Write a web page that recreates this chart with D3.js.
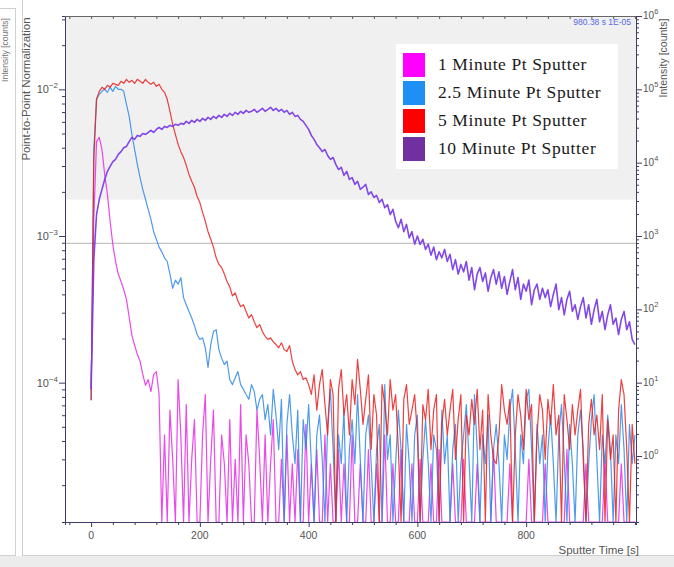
<!DOCTYPE html>
<html>
<head>
<meta charset="utf-8">
<script src="https://cdn.jsdelivr.net/npm/d3@7"></script>
<style>
  body { margin: 0; background: #ffffff; }
  svg { display: block; }
  text { font-family: "Liberation Sans", Arial, sans-serif; }
</style>
</head>
<body>
<svg id="chart" width="674" height="567"></svg>
<script>
// Sputter time grid (s), one sample every 5 s
const sputterTime = d3.range(0, 1001, 5);

// Point-to-point normalised Pt signal, in units of 1e-5 (0 = no counts)
const UNIT = 1e-5;
const pt1min = [
  9.0, 130, 440, 470, 389, 263, 192, 126, 87, 67,
  55, 49, 43, 37, 28, 21, 18, 15.6, 14, 11.4,
  9.6, 10.5, 8.7, 11.4, 11.9, 8.3, 0, 4.4, 0, 6.5,
  3.0, 0, 10.5, 4.4, 0, 7.1, 0, 3.0, 5.6, 0,
  0, 4.4, 8.3, 0, 3.0, 6.5, 0, 0, 4.4, 2.8,
  0, 5.6, 0, 3.0, 0, 7.1, 0, 4.4, 2.8, 0,
  0, 6.5, 3.0, 0, 4.4, 0, 2.8, 5.6, 0, 0,
  3.0, 0, 4.4, 0, 2.8, 0, 3.5, 0, 0, 5.2,
  0, 2.8, 0, 3.5, 0, 0, 4.4, 0, 2.8, 0,
  0, 3.5, 0, 2.8, 0, 0, 4.4, 0, 0, 2.8,
  0, 0, 3.5, 0, 0, 2.8, 0, 0, 4.4, 0,
  0, 2.8, 0, 0, 3.5, 0, 0, 0, 2.8, 0,
  0, 3.0, 0, 0, 0, 2.8, 0, 0, 3.5, 0,
  0, 0, 0, 2.8, 0, 0, 0, 3.0, 0, 0,
  0, 0, 2.8, 0, 0, 0, 0, 0, 3.5, 0,
  0, 0, 0, 0, 2.8, 0, 0, 0, 0, 0,
  0, 3.0, 0, 0, 0, 0, 0, 2.8, 0, 0,
  0, 0, 0, 0, 0, 3.5, 0, 0, 0, 0,
  0, 0, 2.8, 0, 0, 0, 0, 0, 0, 3.0,
  0, 0, 0, 0, 0, 2.8, 0, 0, 0, 0,
  0
];
const pt2_5min = [
  7.6, 389, 855, 925, 969, 1000, 954, 1032, 969, 1048,
  1000, 1000, 969, 790, 654, 493, 389, 308, 250, 208,
  178, 152, 130, 107, 95, 84, 78, 71, 67, 55,
  44, 50, 47, 52, 38, 34, 30.6, 27.6, 24.5, 21.3,
  19.7, 20.2, 17.3, 12.7, 18.2, 22.3, 23, 16.8, 14.7, 13.3,
  14, 10.5, 9.7, 10.8, 11.9, 9.7, 9.0, 8.3, 7.7, 9.7,
  8.7, 6.5, 7.7, 8.3, 5.6, 7.1, 4.4, 9.0, 6.0, 3.5,
  7.7, 0, 5.2, 8.3, 4.4, 2.8, 6.5, 0, 5.6, 3.5,
  7.1, 2.8, 0, 4.4, 6.0, 3.0, 0, 5.2, 9.0, 3.5,
  0, 4.4, 2.8, 6.5, 0, 3.5, 5.6, 2.8, 8.3, 3.0,
  0, 4.4, 6.0, 2.8, 0, 3.5, 5.2, 0, 9.7, 3.0,
  4.4, 0, 2.8, 6.5, 3.5, 0, 5.2, 2.8, 0, 4.4,
  6.0, 0, 3.0, 5.6, 2.8, 0, 4.4, 3.5, 0, 6.5,
  2.8, 4.4, 0, 3.5, 5.2, 0, 2.8, 4.4, 7.1, 3.0,
  0, 8.3, 3.5, 0, 4.4, 2.8, 6.0, 0, 3.5, 5.2,
  2.8, 0, 4.4, 3.0, 6.5, 9.0, 3.5, 0, 4.4, 2.8,
  7.7, 9.0, 3.5, 0, 5.2, 2.8, 4.4, 0, 3.5, 6.0,
  2.8, 0, 4.4, 7.1, 3.0, 0, 5.2, 2.8, 0, 4.4,
  6.5, 3.5, 0, 2.8, 5.6, 8.3, 3.0, 0, 4.4, 2.8,
  6.0, 3.5, 0, 4.4, 2.8, 7.1, 3.5, 0, 5.2, 2.8,
  4.4
];
const pt5min = [
  7.6, 333, 855, 969, 1032, 1000, 1065, 1032, 1099, 1082,
  1065, 1134, 1099, 1170, 1116, 1152, 1099, 1170, 1134, 1099,
  1170, 1116, 1082, 1116, 1048, 1082, 1000, 954, 855, 708,
  577, 493, 421, 376, 343, 303, 263, 236, 215, 186,
  169, 145, 126, 107, 95, 84, 71, 64, 61, 55,
  49, 45, 39, 41, 36, 33, 34, 30.6, 27.6, 29.1,
  26, 23.7, 24.9, 22.3, 20.7, 19.7, 20.2, 19, 18.2, 17.3,
  18.7, 16.8, 16.3, 17.9, 14, 12.3, 11.3, 11.9, 10.5, 10.8,
  9.7, 8.3, 11.3, 6.5, 9.7, 12.3, 7.1, 4.4, 10.5, 8.3,
  0, 9.0, 12.3, 6.0, 8.3, 4.4, 10.5, 7.1, 14.4, 9.0,
  5.2, 7.7, 11.3, 3.5, 8.3, 6.0, 0, 9.7, 7.1, 4.4,
  10.5, 6.5, 8.3, 3.5, 0, 7.7, 9.7, 5.2, 6.5, 8.3,
  4.4, 0, 7.1, 5.6, 9.0, 3.5, 6.5, 8.3, 0, 5.2,
  7.7, 4.4, 6.5, 9.0, 3.0, 5.6, 8.3, 0, 6.0, 4.4,
  7.7, 5.2, 9.0, 3.5, 6.5, 0, 8.3, 4.4, 3.0, 2.8,
  4.4, 9.7, 6.5, 5.2, 7.7, 0, 4.4, 8.3, 6.0, 3.5,
  9.0, 5.6, 7.1, 0, 4.4, 8.3, 6.5, 3.0, 7.7, 5.2,
  9.7, 4.4, 6.0, 0, 8.3, 5.6, 3.5, 7.1, 4.4, 6.5,
  9.0, 3.0, 0, 5.2, 7.7, 4.4, 6.0, 3.5, 8.3, 0,
  5.6, 3.0, 4.4, 0, 6.5, 10.5, 8.3, 3.5, 0, 5.2,
  2.8
];
const pt10min = [
  9.0, 69, 140, 178, 208, 243, 276, 298, 321, 333,
  360, 376, 400, 408, 440, 470, 456, 485, 478, 500,
  493, 508, 525, 508, 533, 550, 533, 559, 550, 568,
  559, 577, 568, 586, 577, 605, 586, 614, 595, 624,
  605, 634, 614, 644, 624, 654, 634, 664, 644, 675,
  654, 686, 664, 697, 675, 708, 686, 719, 697, 708,
  730, 697, 719, 742, 708, 730, 754, 719, 742, 708,
  730, 697, 719, 675, 697, 654, 664, 624, 605, 568,
  533, 485, 456, 421, 400, 376, 389, 354, 333, 343,
  308, 284, 294, 259, 276, 243, 250, 225, 236, 208,
  215, 225, 192, 200, 183, 189, 169, 178, 156, 164,
  140, 152, 126, 114, 130, 107, 120, 97, 107, 88,
  100, 87.5, 95, 81, 88, 74, 84, 69, 78, 71,
  81, 67, 75, 59, 69, 55, 64, 57, 67, 50,
  61, 43, 55, 61, 49, 56, 42, 52, 59, 47,
  57, 44, 53, 40, 49, 59, 43, 52, 37, 47,
  42, 50, 34, 43, 47, 37, 44, 38, 43, 33,
  40, 47, 31.5, 38, 29, 37, 42, 30.6, 34, 27,
  33, 38, 27.6, 34, 25, 31.5, 37, 26, 30.6, 23,
  29, 34, 25, 27.6, 21.3, 27, 30.6, 23, 26, 19.7,
  18.2
];

const seriesLabels = ["1 Minute Pt Sputter", "2.5 Minute Pt Sputter", "5 Minute Pt Sputter", "10 Minute Pt Sputter"];
const seriesValues = [pt1min, pt2_5min, pt5min, pt10min];
const lineColors   = ["#e52ae5", "#3088e8", "#ea1e1e", "#7b3ee6"];
const swatchColors = ["#ff00ff", "#1e8ff5", "#ff0000", "#7030a0"];

// Axis ticks
const timeTicks = [0, 200, 400, 600, 800];
const leftDecades = [-4, -3, -2];
const rightDecades = [0, 1, 2, 3, 4, 5, 6];

// Threshold levels shown in the plot background (normalised units)
const bandFloor = 1.77e-3;
const refLevel = 8.9e-4;

const svg = d3.select("#chart");
const W = 674, H = 567;
const plot = { left: 65, right: 636, top: 16, bottom: 522 };

const x = d3.scaleLinear().domain([-48, 1002]).range([plot.left, plot.right]);
const yLeft = d3.scaleLog().domain([Math.pow(10, -4.95), Math.pow(10, -1.5)]).range([plot.bottom, plot.top]);
const yRight = d3.scaleLog().domain([Math.pow(10, -0.9), 1e6]).range([plot.bottom, plot.top]);

// ---- page frame ----
svg.append("rect").attr("x", 0).attr("y", 0).attr("width", W).attr("height", H).attr("fill", "#ffffff");
svg.append("rect").attr("x", 0).attr("y", 556).attr("width", W).attr("height", H - 556).attr("fill", "#ececec");
svg.append("line").attr("x1", 22.5).attr("x2", 22.5).attr("y1", 0).attr("y2", 556).attr("stroke", "#cfcfcf");
svg.append("line").attr("x1", 22).attr("x2", W).attr("y1", 555.5).attr("y2", 555.5).attr("stroke", "#cfcfcf");
svg.append("rect").attr("x", -1).attr("y", 8.5).attr("width", 16.5).attr("height", 547)
  .attr("fill", "#ffffff").attr("stroke", "#d0d0d0");
svg.append("text")
  .attr("transform", "translate(8,50) rotate(-90)")
  .attr("text-anchor", "middle").attr("font-size", 8.5).attr("fill", "#777")
  .text("Intensity [counts]");

// ---- plot background ----
svg.append("rect")
  .attr("x", plot.left).attr("y", plot.top)
  .attr("width", plot.right - plot.left).attr("height", yLeft(bandFloor) - plot.top)
  .attr("fill", "#f0f0f0");
svg.append("line")
  .attr("x1", plot.left).attr("x2", plot.right)
  .attr("y1", yLeft(refLevel)).attr("y2", yLeft(refLevel))
  .attr("stroke", "#c4c4c4").attr("stroke-width", 1.2);

// ---- series ----
svg.append("clipPath").attr("id", "plotClip")
  .append("rect").attr("x", plot.left).attr("y", plot.top)
  .attr("width", plot.right - plot.left).attr("height", plot.bottom - plot.top);

const line = d3.line()
  .x(d => x(d.t))
  .y(d => d.v > 0 ? yLeft(d.v * UNIT) : plot.bottom);

const gLines = svg.append("g").attr("clip-path", "url(#plotClip)");
seriesValues.forEach((vals, i) => {
  const pts = vals.map((v, k) => ({ t: sputterTime[k], v }));
  gLines.append("path")
    .attr("d", line(pts))
    .attr("fill", "none")
    .attr("stroke", lineColors[i])
    .attr("stroke-width", i === 3 ? 1.6 : 1.2)
    .attr("stroke-opacity", i === 3 ? 0.95 : 0.85)
    .attr("stroke-linejoin", "round");
});

// ---- axes ----
const axisColor = "#3c3c66";
const labelColor = "#555";

function logMinors(lo, hi) {
  const out = [];
  for (let e = lo; e <= hi; e++) for (let m = 1; m <= 9; m++) out.push(m * Math.pow(10, e));
  return out;
}

// left axis
const leftMinor = logMinors(-5, -2).filter(v => v >= yLeft.domain()[0] && v <= yLeft.domain()[1]);
const gL = svg.append("g").attr("transform", `translate(${plot.left},0)`);
gL.call(d3.axisLeft(yLeft).tickValues(leftMinor).tickSize(3).tickFormat(""));
gL.call(g => g.selectAll(".tick").filter(d => leftDecades.some(e => Math.abs(Math.log10(d) - e) < 1e-9))
  .select("line").attr("x2", -6));
gL.selectAll("path,line").attr("stroke", axisColor);
leftDecades.forEach(e => {
  const t = svg.append("text").attr("x", 58).attr("y", yLeft(Math.pow(10, e)) + 4)
    .attr("text-anchor", "end").attr("font-size", 11).attr("fill", labelColor);
  t.append("tspan").text("10");
  t.append("tspan").attr("dy", -5).attr("font-size", 8).text("\u2212" + (-e));
});
svg.append("text")
  .attr("transform", "translate(30,89) rotate(-90)")
  .attr("text-anchor", "middle").attr("font-size", 11.5).attr("fill", labelColor)
  .text("Point-to-Point Normalization");

// right axis
const rightMinor = logMinors(-1, 6).filter(v => v >= yRight.domain()[0] && v <= yRight.domain()[1]);
const gR = svg.append("g").attr("transform", `translate(${plot.right},0)`);
gR.call(d3.axisRight(yRight).tickValues(rightMinor).tickSize(3).tickFormat(""));
gR.call(g => g.selectAll(".tick").filter(d => rightDecades.some(e => Math.abs(Math.log10(d) - e) < 1e-9))
  .select("line").attr("x2", 6));
gR.selectAll("path,line").attr("stroke", axisColor);
rightDecades.forEach(e => {
  const t = svg.append("text").attr("x", 643).attr("y", yRight(Math.pow(10, e)) + 3)
    .attr("text-anchor", "start").attr("font-size", 10).attr("fill", labelColor);
  t.append("tspan").text("10");
  t.append("tspan").attr("dy", -5).attr("font-size", 7.5).text(String(e));
});
svg.append("text")
  .attr("transform", "translate(667,58) rotate(-90)")
  .attr("text-anchor", "middle").attr("font-size", 10.5).attr("fill", labelColor)
  .text("Intensity [counts]");

// bottom axis
const timeMinor = d3.range(-40, 1001, 40);
const gB = svg.append("g").attr("transform", `translate(0,${plot.bottom})`);
gB.call(d3.axisBottom(x).tickValues(timeMinor).tickSize(3).tickFormat(""));
gB.call(g => g.selectAll(".tick").filter(d => timeTicks.includes(d)).select("line").attr("y2", 5));
gB.selectAll("path,line").attr("stroke", axisColor);
timeTicks.forEach(v => {
  svg.append("text").attr("x", x(v)).attr("y", 539)
    .attr("text-anchor", "middle").attr("font-size", 10.5).attr("fill", labelColor).text(v);
});
svg.append("text").attr("x", 639).attr("y", 554)
  .attr("text-anchor", "end").attr("font-size", 11.5).attr("fill", labelColor)
  .text("Sputter Time [s]");

// top axis (mirror, inward ticks)
const gT = svg.append("g").attr("transform", `translate(0,${plot.top})`);
gT.call(d3.axisBottom(x).tickValues(timeMinor).tickSize(3).tickFormat(""));
gT.selectAll("path,line").attr("stroke", "#555");
gT.select("path").remove();
svg.append("line").attr("x1", plot.left).attr("x2", plot.right)
  .attr("y1", plot.top + 0.5).attr("y2", plot.top + 0.5).attr("stroke", "#666");

// cursor readout
svg.append("text").attr("x", 631).attr("y", 25)
  .attr("text-anchor", "end").attr("font-size", 8.5).attr("fill", "#5a6ae0")
  .text("980.38 s  1E-05");

// ---- legend ----
const lg = svg.append("g");
lg.append("rect").attr("x", 396).attr("y", 44).attr("width", 222).attr("height", 125).attr("fill", "#ffffff");
seriesLabels.forEach((lab, i) => {
  const yy = 53 + i * 28;
  lg.append("rect").attr("x", 403).attr("y", yy).attr("width", 22).attr("height", 24)
    .attr("fill", swatchColors[i]);
  lg.append("text").attr("x", 438).attr("y", yy + 17)
    .style("font-family", "'Liberation Serif', 'DejaVu Serif', serif")
    .style("letter-spacing", "0.6px")
    .attr("font-size", 17.5).attr("fill", "#1a1a1a").text(lab);
});
</script>
</body>
</html>
